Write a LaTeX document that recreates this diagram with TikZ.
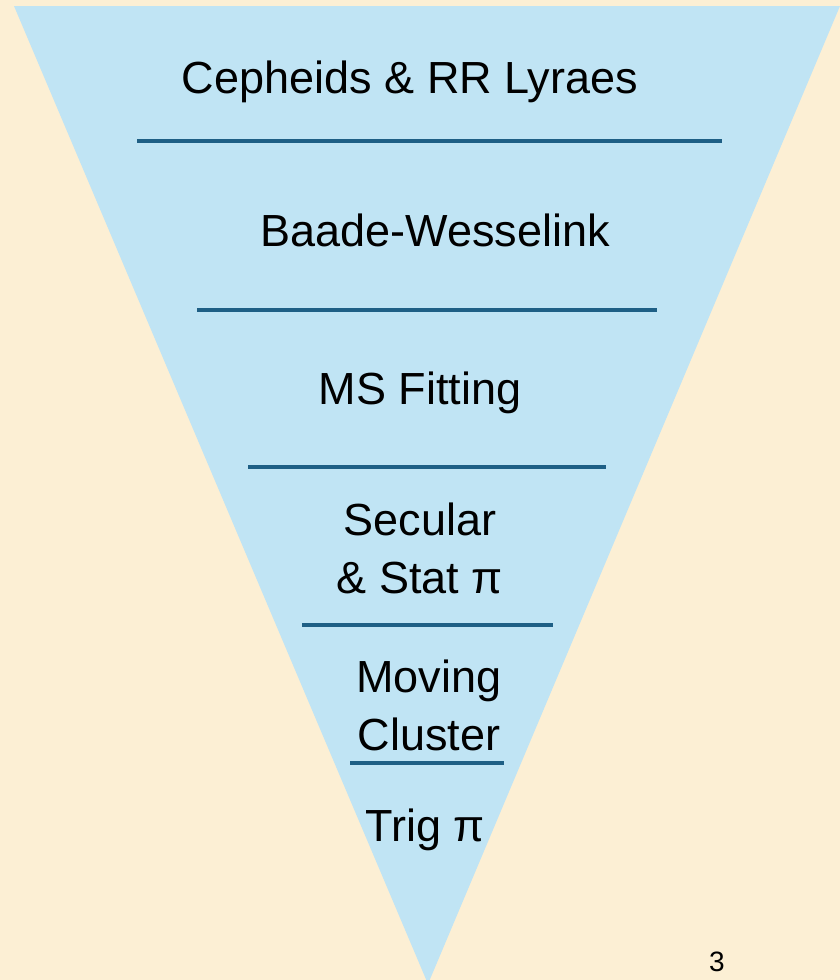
\documentclass[tikz,border=0pt]{standalone}
\usepackage{fontspec}
\setmainfont{Liberation Sans}
\definecolor{parch}{RGB}{252,239,212}
\definecolor{funnel}{RGB}{192,228,244}
\definecolor{rule}{RGB}{30,95,133}
\tikzset{
  lbl/.style={font=\fontsize{45}{58}\selectfont, text=black, align=center, inner sep=0pt},
  sep/.style={draw=rule, line width=3.5pt},
}
\begin{document}
\begin{tikzpicture}[x=1pt,y=-1pt]
\fill[parch] (0,0) rectangle (840,980);
\useasboundingbox (0,0) rectangle (840,980);
\fill[funnel] (14,6) -- (840,6) -- (428,984) -- cycle;
\draw[sep] (137,141) -- (722,141);
\draw[sep] (197,310) -- (657,310);
\draw[sep] (248,467) -- (606,467);
\draw[sep] (302,625) -- (553,625);
\draw[sep] (350,763) -- (504,763);
\node[lbl] (ceph) at (410,82) {Cepheids \& RR Lyraes};
\node[lbl] (baade) at (435,230) {Baade-Wesselink};
\node[lbl] (ms) at (420,393) {MS Fitting};
\node[lbl] (sec) at (420,548) {Secular\\\& Stat π};
\node[lbl] (mov) at (429,705) {Moving\\Cluster};
\node[lbl] (trig) at (425,830) {Trig π};
\node[font=\fontsize{28}{32}\selectfont, inner sep=0pt] (num) at (717,962) {3};
\end{tikzpicture}
\end{document}
